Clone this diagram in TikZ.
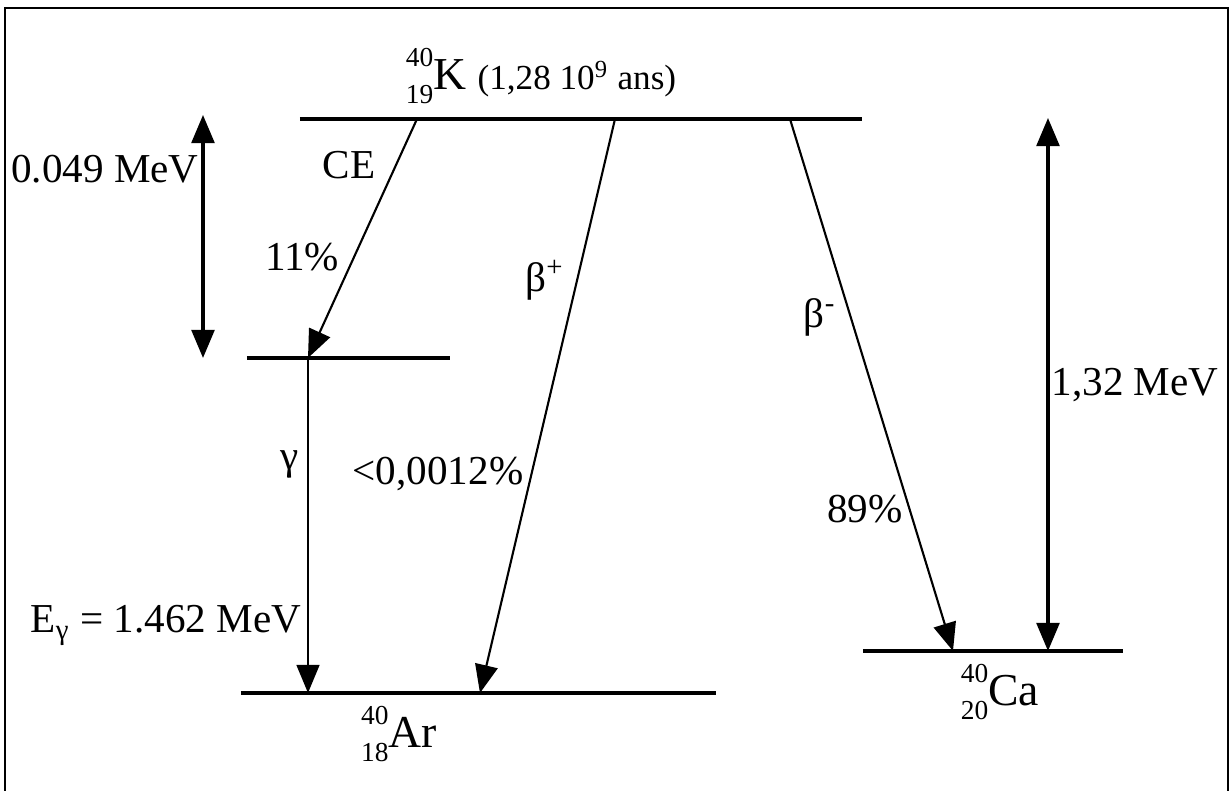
\documentclass[tikz,border=0pt]{standalone}
\usepackage{fontspec}
\setmainfont{Liberation Serif}
\usetikzlibrary{arrows.meta, positioning, calc}

% mass number over atomic number, then symbol
\newcommand{\nucl}[3]{\raisebox{1.5pt}{\fontsize{7.8}{10.6}\selectfont
  \begin{tabular}[c]{@{}r@{}}#1\\#2\end{tabular}}#3}

\begin{document}
\begin{tikzpicture}[x=0.1mm, y=-0.1mm,
    >={Triangle[length=8pt, width=6.5pt]},
    level/.style={line width=0.9pt},
    decay/.style={->, line width=0.6pt},
    span/.style={<->, line width=0.9pt},
    lbl/.style={font=\fontsize{11.7}{14}\selectfont, inner sep=0pt, anchor=base},
    nuc/.style={font=\fontsize{13}{15}\selectfont, inner sep=0pt, anchor=base}]
  \useasboundingbox (0,0) rectangle (1230,791);

  % frame
  \draw[line width=0.6pt] (5,791) -- (5,8) -- (1228,8) -- (1228,791);

  % levels
  \coordinate (K0) at (300,119);  \coordinate (K1) at (862,119);
  \coordinate (M0) at (247,358);  \coordinate (M1) at (450,358);
  \coordinate (Ar0) at (241,693); \coordinate (Ar1) at (716,693);
  \coordinate (Ca0) at (863,651); \coordinate (Ca1) at (1123,651);
  \draw[level] (K0) -- (K1);
  \draw[level] (M0) -- (M1);
  \draw[level] (Ar0) -- (Ar1);
  \draw[level, line width=1pt] (Ca0) -- (Ca1);

  % transitions
  \coordinate (ceTop) at (417,119);  \coordinate (ceEnd) at (308,358);
  \coordinate (bpTop) at (615,119);  \coordinate (bpEnd) at (480,693);
  \coordinate (bmTop) at (790,119);  \coordinate (bmEnd) at (953,651);
  \coordinate (gEnd) at (308,693);
  \draw[decay] (ceTop) -- (ceEnd);
  \draw[decay] (bpTop) -- (bpEnd);
  \draw[decay] (bmTop) -- (bmEnd);
  \draw[decay] (ceEnd) -- (gEnd);

  % energy spans
  \coordinate (dEtop) at (203,115);  \coordinate (dEbot) at (203,358);
  \coordinate (Qtop) at (1048,118);  \coordinate (Qbot) at (1048,651);
  \draw[span] (dEtop) -- (dEbot);
  \draw[span] (Qtop) -- (Qbot);

  % labels
  \node[nuc] (lK) at (541,90) {\nucl{40}{19}{K}
    {\fontsize{10}{12}\selectfont (1,28 10\textsuperscript{9} ans)}};
  \node[nuc] (lAr) at (399,748) {\nucl{40}{18}{Ar}};
  \node[nuc] (lCa) at (1000,706) {\nucl{40}{20}{Ca}};
  \node[lbl] (ldE) at (105,183) {0.049 MeV};
  \node[lbl] (lCE) at (349,179) {CE};
  \node[lbl] (lCEp) at (302,271) {11\%};
  \node[lbl] (lbp) at (545,292) {β\textsuperscript{+}};
  \node[lbl] (lbm) at (820,328) {β\textsuperscript{-}};
  \node[lbl] (lQ) at (1135,396) {1,32 MeV};
  \node[lbl] (lg) at (290,470) {γ};
  \node[lbl] (lbpp) at (438,485) {<0,0012\%};
  \node[lbl] (lbmp) at (865,523) {89\%};
  \node[lbl] (lEg) at (166,633) {E\textsubscript{γ} = 1.462 MeV};
\end{tikzpicture}
\end{document}
